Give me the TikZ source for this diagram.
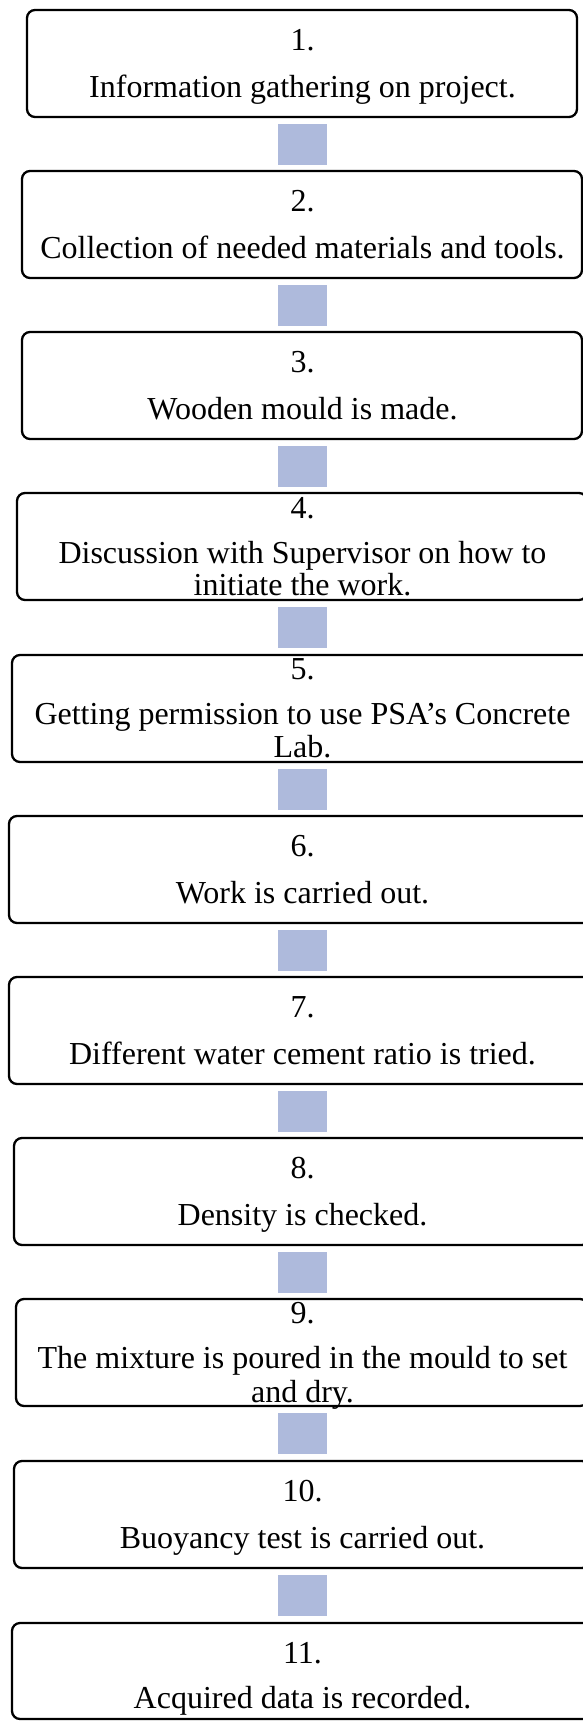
\documentclass[tikz,border=0pt]{standalone}
\usepackage{fontspec}
\setmainfont{Liberation Serif}
\definecolor{sqblue}{RGB}{174,186,220}
\tikzset{
  stepbox/.style={draw=black, line width=2.3pt, rounded corners=8pt, minimum height=107pt, inner sep=0pt, fill=white},
  linker/.style={fill=sqblue, draw=none, minimum width=49pt, minimum height=41pt, inner sep=0pt},
  lbl/.style={anchor=base, inner sep=0pt, font=\fontsize{32}{34}\selectfont}
}
\begin{document}
\begin{tikzpicture}[x=1pt,y=-1pt]
\useasboundingbox (0,0) rectangle (582,1722);
% boxes
\node[stepbox, minimum width=550pt] (b1) at (302,63.5) {};
\node[stepbox, minimum width=560pt] (b2) at (302,224.5) {};
\node[stepbox, minimum width=560pt] (b3) at (302,385.5) {};
\node[stepbox, minimum width=570pt] (b4) at (302,546.5) {};
\node[stepbox, minimum width=580pt] (b5) at (302,708.5) {};
\node[stepbox, minimum width=586pt] (b6) at (302,869.5) {};
\node[stepbox, minimum width=586pt] (b7) at (302,1030.5) {};
\node[stepbox, minimum width=576pt] (b8) at (302,1191.5) {};
\node[stepbox, minimum width=572pt] (b9) at (302,1352.5) {};
\node[stepbox, minimum width=576pt] (b10) at (302,1514.5) {};
\node[stepbox, minimum width=580pt, minimum height=96pt] (b11) at (302,1671) {};
% linkers
\node[linker] (s1) at (302.5,144.5) {};
\node[linker] (s2) at (302.5,305.5) {};
\node[linker] (s3) at (302.5,466.5) {};
\node[linker] (s4) at (302.5,627.5) {};
\node[linker] (s5) at (302.5,789.5) {};
\node[linker] (s6) at (302.5,950.5) {};
\node[linker] (s7) at (302.5,1111.5) {};
\node[linker] (s8) at (302.5,1272.5) {};
\node[linker] (s9) at (302.5,1433.5) {};
\node[linker] (s10) at (302.5,1595.5) {};
% texts
\node[lbl] (n1) at (302.5,50) {1.};
\node[lbl] (t1) at (302.5,97) {Information gathering on project.};
\node[lbl] (n2) at (302.5,211) {2.};
\node[lbl] (t2) at (302.5,258) {Collection of needed materials and tools.};
\node[lbl] (n3) at (302.5,372) {3.};
\node[lbl] (t3) at (302.5,419) {Wooden mould is made.};
\node[lbl] (n4) at (302.5,518) {4.};
\node[lbl] (t4a) at (302.5,563) {Discussion with Supervisor on how to};
\node[lbl] (t4b) at (302.5,595) {initiate the work.};
\node[lbl] (n5) at (302.5,679) {5.};
\node[lbl] (t5a) at (302.5,724) {Getting permission to use PSA’s Concrete};
\node[lbl] (t5b) at (302.5,757) {Lab.};
\node[lbl] (n6) at (302.5,856) {6.};
\node[lbl] (t6) at (302.5,903) {Work is carried out.};
\node[lbl] (n7) at (302.5,1017) {7.};
\node[lbl] (t7) at (302.5,1064) {Different water cement ratio is tried.};
\node[lbl] (n8) at (302.5,1178) {8.};
\node[lbl] (t8) at (302.5,1225) {Density is checked.};
\node[lbl] (n9) at (302.5,1323) {9.};
\node[lbl] (t9a) at (302.5,1368) {The mixture is poured in the mould to set};
\node[lbl] (t9b) at (302.5,1402) {and dry.};
\node[lbl] (n10) at (302.5,1501) {10.};
\node[lbl] (t10) at (302.5,1548) {Buoyancy test is carried out.};
\node[lbl] (n11) at (302.5,1663) {11.};
\node[lbl] (t11) at (302.5,1708) {Acquired data is recorded.};
\end{tikzpicture}
\end{document}
